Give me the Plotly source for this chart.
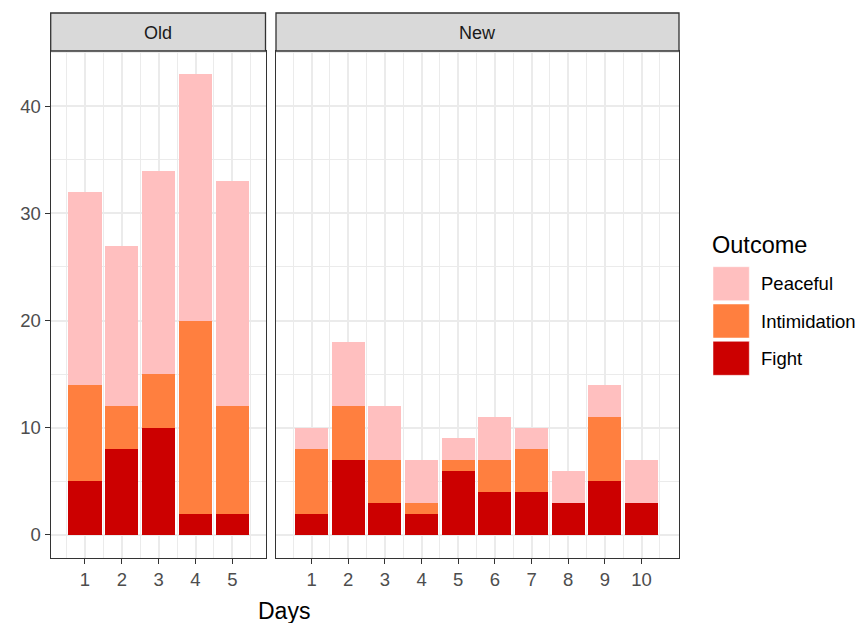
import plotly.graph_objects as go

# ---- data ----
old_days = [1, 2, 3, 4, 5]
old_fight = [5, 8, 10, 2, 2]
old_intim = [9, 4, 5, 18, 10]
old_peace = [18, 15, 19, 23, 21]

new_days = [1, 2, 3, 4, 5, 6, 7, 8, 9, 10]
new_fight = [2, 7, 3, 2, 6, 4, 4, 3, 5, 3]
new_intim = [6, 5, 4, 1, 1, 3, 4, 0, 6, 0]
new_peace = [2, 6, 5, 4, 2, 4, 2, 3, 3, 4]

outcomes = ["Peaceful", "Intimidation", "Fight"]
colors = {"Fight": "#CC0000", "Intimidation": "#FF7F3F", "Peaceful": "#FFBFBF"}
panels = ["Old", "New"]
y_ticks = [0, 10, 20, 30, 40]

# page body has an 8px margin; figure sized to fit inside the 867x631 window
OFF = 8
W, H = 867 - 2 * OFF, 631 - 2 * OFF
FONT = "Liberation Sans, Arial, sans-serif"


def px(x):
    return (x - OFF) / W


def py(y):
    return 1 - (y - OFF) / H


fig = go.Figure()

for series, vals_old, vals_new in [
    ("Fight", old_fight, new_fight),
    ("Intimidation", old_intim, new_intim),
    ("Peaceful", old_peace, new_peace),
]:
    fig.add_trace(go.Bar(x=old_days, y=vals_old, name=series, marker_color=colors[series],
                         marker_line_width=0, width=0.9, showlegend=False,
                         xaxis="x", yaxis="y"))
    fig.add_trace(go.Bar(x=new_days, y=vals_new, name=series, marker_color=colors[series],
                         marker_line_width=0, width=0.9, showlegend=False,
                         xaxis="x2", yaxis="y2"))

old_dom = [px(50.7), px(265.5)]
new_dom = [px(276), px(679)]
y_dom = [py(558), py(51)]
yr = [-2.15, 45.15]

grid = dict(showgrid=True, gridcolor="#EBEBEB", gridwidth=1.5, zeroline=False,
            showline=True, linecolor="#333333", linewidth=1.3, mirror=True)
tickfont = dict(family=FONT, size=18.5, color="#4D4D4D")


def minor_x(days):
    return [d - 0.5 for d in days] + [days[-1] + 0.5]


fig.update_layout(
    width=W, height=H,
    margin=dict(l=0, r=0, t=0, b=0),
    paper_bgcolor="white", plot_bgcolor="white",
    barmode="stack",
    xaxis=dict(domain=old_dom, range=[0.07, 5.9], anchor="y", tickvals=old_days,
               ticks="outside", ticklen=5, tickcolor="#333333", tickfont=tickfont,
               minor=dict(tickvals=minor_x(old_days), showgrid=True, gridcolor="#EBEBEB",
                          gridwidth=0.8, ticks=""),
               **grid),
    xaxis2=dict(domain=new_dom, range=[0.03, 11.02], anchor="y2", tickvals=new_days,
                ticks="outside", ticklen=5, tickcolor="#333333", tickfont=tickfont,
                minor=dict(tickvals=minor_x(new_days), showgrid=True, gridcolor="#EBEBEB",
                           gridwidth=0.8, ticks=""),
                **grid),
    yaxis=dict(domain=y_dom, range=yr, anchor="x", tickvals=y_ticks,
               ticks="outside", ticklen=5, tickcolor="#333333", tickfont=tickfont,
               minor=dict(tickvals=[5, 15, 25, 35, 45], showgrid=True, gridcolor="#EBEBEB",
                          gridwidth=0.8, ticks=""),
               **grid),
    yaxis2=dict(domain=y_dom, range=yr, anchor="x2", tickvals=y_ticks,
                showticklabels=False, ticks="",
                minor=dict(tickvals=[5, 15, 25, 35, 45], showgrid=True, gridcolor="#EBEBEB",
                           gridwidth=0.8, ticks=""),
                **grid),
)

shapes = []
annotations = []
# facet strips
for name, dom in zip(panels, [old_dom, new_dom]):
    shapes.append(dict(type="rect", xref="paper", yref="paper",
                       x0=dom[0], x1=dom[1], y0=py(51), y1=py(13),
                       fillcolor="#D9D9D9", line=dict(color="#333333", width=1.3)))
    annotations.append(dict(xref="paper", yref="paper", x=(dom[0] + dom[1]) / 2,
                            y=py(33), text=name, showarrow=False,
                            font=dict(family=FONT, size=18, color="#1A1A1A"),
                            xanchor="center", yanchor="middle"))

# axis title
annotations.append(dict(xref="paper", yref="paper", x=px(284), y=py(611), text="Days",
                        showarrow=False, font=dict(family=FONT, size=23, color="black"),
                        xanchor="center", yanchor="middle"))

# legend
annotations.append(dict(xref="paper", yref="paper", x=px(710), y=py(245), text="Outcome",
                        showarrow=False, font=dict(family=FONT, size=23.5, color="black"),
                        xanchor="left", yanchor="middle"))
key_tops = [266.7, 304, 341.3]
for name, top in zip(outcomes, key_tops):
    shapes.append(dict(type="rect", xref="paper", yref="paper",
                       x0=px(713), x1=px(749.3), y0=py(top + 34), y1=py(top),
                       fillcolor=colors[name], line=dict(color="white", width=0.5)))
    annotations.append(dict(xref="paper", yref="paper", x=px(759), y=py(top + 17),
                            text=name, showarrow=False,
                            font=dict(family=FONT, size=18.5, color="black"),
                            xanchor="left", yanchor="middle"))

fig.update_layout(shapes=shapes, annotations=annotations)

fig.write_html("out.html")
